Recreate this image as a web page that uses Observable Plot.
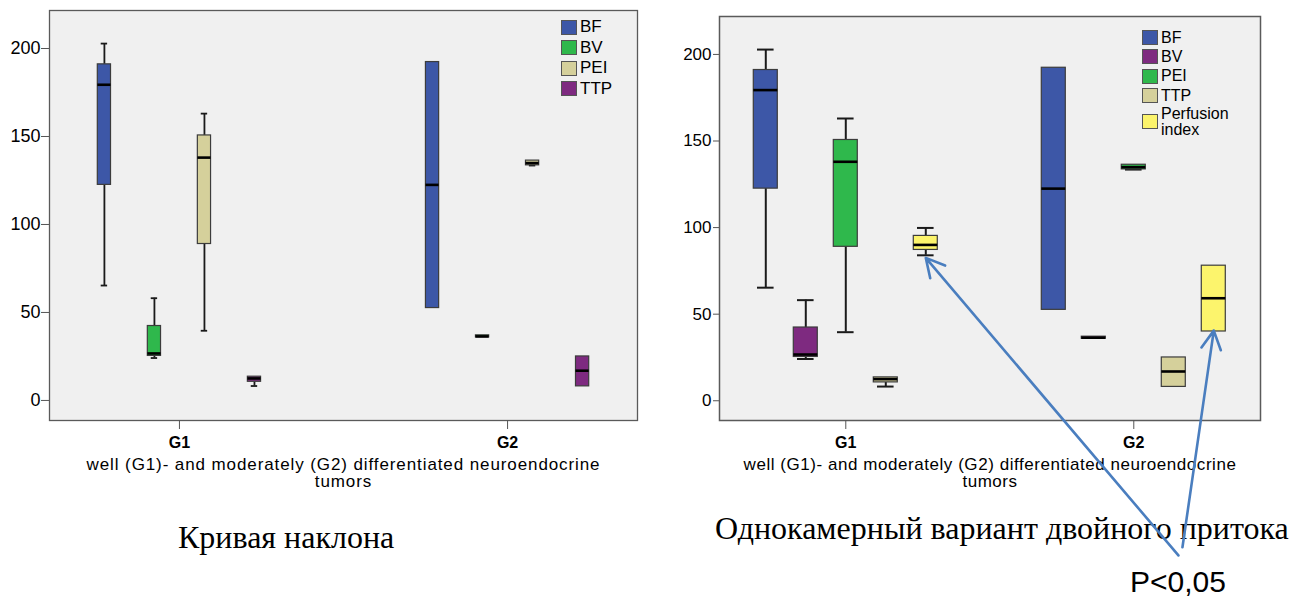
<!DOCTYPE html>
<html><head><meta charset="utf-8">
<script src="https://cdn.jsdelivr.net/npm/d3@7"></script>
<script src="https://cdn.jsdelivr.net/npm/@observablehq/plot@0.6"></script>
<style>
body{margin:0;background:#fff;}
#wrap{position:relative;width:1310px;height:600px;overflow:hidden;font-family:"Liberation Sans",Arial,sans-serif;}
.chart{position:absolute;top:0;}
.legend{position:absolute;font-family:"Liberation Sans",Arial,sans-serif;font-size:17px;color:#000;}
.legend.small{font-size:16px;}
.legend .row{display:flex;align-items:center;}
.legend .sw{width:16px;height:15px;border:1.5px solid #555;box-sizing:border-box;margin-right:3px;flex:none;}
.legend .lab{line-height:16px;}
.caption{position:absolute;font-family:"Liberation Serif","Times New Roman",serif;font-size:32px;line-height:1;white-space:nowrap;color:#000;}
.pval{position:absolute;font-family:"Liberation Sans",Arial,sans-serif;font-size:30px;line-height:1;white-space:nowrap;color:#000;}
</style></head><body><div id="wrap"></div><script>
// ---- data ----
const groups = ["G1", "G2"];
const leftVars = ["BF", "BV", "PEI", "TTP"];
const leftColors = ["#3d57a7", "#2fb84c", "#d5d09b", "#7e2a80"];
const rightVars = ["BF", "BV", "PEI", "TTP", "Perfusion index"];
const rightColors = ["#3d57a7", "#7e2a80", "#2fb84c", "#d5d09b", "#fcf46c"];
// five-number summaries [min, q1, median, q3, max], one per group [G1, G2]
const BF  = [[65.3, 122.5, 179.4, 191.0, 202.8], [52.5, 52.5, 122.5, 192.3, 192.3]];
const BV  = [[24.1, 25.3, 26.7, 42.3, 58.1], [35.8, 35.8, 36.4, 37.0, 37.0]];
const PEI = [[39.6, 88.9, 138.0, 150.6, 163.0], [133.5, 133.6, 134.9, 136.3, 136.3]];
const TTP = [[8.2, 10.6, 12.5, 13.5, 13.5], [8.0, 8.0, 16.9, 25.0, 25.0]];
const PI  = [[84.0, 87.1, 90.0, 95.2, 99.8], [40.0, 40.0, 59.2, 78.0, 78.0]];
const yTicks = [0, 50, 100, 150, 200];
const xTitle = "well (G1)- and moderately (G2) differentiated neuroendocrine\ntumors";
const leftCaption = "Кривая наклона";
const rightCaption = "Однокамерный вариант двойного притока";
const pText = "P<0,05";
// annotation arrows: from a common label point (below the chart) to the Perfusion index boxes
const arrowTipGroup = [0, 1];
const arrowTipValue = [82.5, 40.5];
const arrowTailX = [1.155, 1.169];
const arrowTailY = [-89.3, -84.6];

function rowsFor(vars, colors, series, step) {
  const rows = [];
  groups.forEach((g, gi) => {
    vars.forEach((v, vi) => {
      const s = series[vi][gi];
      rows.push({group: g, variable: v, color: colors[vi],
        x: gi + (vi - (vars.length - 1) / 2) * step,
        min: s[0], q1: s[1], med: s[2], q3: s[3], max: s[4]});
    });
  });
  return rows;
}

function boxMarks(rows, boxHalf, capHalf, whiskerW) {
  const upper = rows.filter(d => d.max > d.q3);
  const lower = rows.filter(d => d.min < d.q1);
  return [
    Plot.frame({fill: "#f0f0f0"}),
    Plot.ruleX(upper, {x: "x", y1: "q3", y2: "max", stroke: "#1a1a1a", strokeWidth: whiskerW}),
    Plot.ruleX(lower, {x: "x", y1: "min", y2: "q1", stroke: "#1a1a1a", strokeWidth: whiskerW}),
    Plot.ruleY(upper, {y: "max", x1: d => d.x - capHalf, x2: d => d.x + capHalf, stroke: "#1a1a1a", strokeWidth: whiskerW}),
    Plot.ruleY(lower, {y: "min", x1: d => d.x - capHalf, x2: d => d.x + capHalf, stroke: "#1a1a1a", strokeWidth: whiskerW}),
    Plot.rect(rows, {x1: d => d.x - boxHalf, x2: d => d.x + boxHalf, y1: "q1", y2: "q3", fill: "color", stroke: "#3c3c3c", strokeWidth: 1.2}),
    Plot.ruleY(rows, {y: "med", x1: d => d.x - boxHalf, x2: d => d.x + boxHalf, stroke: "#000", strokeWidth: 2.6})
  ];
}

function spaceTitle(svg, spacing) {
  d3.select(svg).selectAll("text")
    .filter(function () { return this.textContent.startsWith("well"); })
    .style("letter-spacing", spacing + "px");
}

const wrap = document.getElementById("wrap");

// ---- left chart ----
const leftRows = rowsFor(leftVars, leftColors, [BF, BV, PEI, TTP], 50 / 328);
const left = Plot.plot({
  width: 650, height: 500,
  marginLeft: 49, marginRight: 13, marginTop: 10, marginBottom: 80,
  style: {background: "transparent", overflow: "visible", fontFamily: "Liberation Sans, Arial, sans-serif"},
  x: {domain: [-0.396, 1.396]},
  y: {domain: [-11.4, 221.6]},
  color: {type: "identity"},
  marks: [
    ...boxMarks(leftRows, 6.6 / 328, 3.2 / 328, 1.8),
    Plot.frame({stroke: "#5a5a5a", strokeWidth: 1.3}),
    Plot.axisY({ticks: yTicks, tickSize: 8, tickPadding: 1, fontSize: 18, label: null, stroke: "#555"}),
    Plot.axisX({ticks: [0, 1], tickFormat: i => groups[i], tickSize: 9, tickPadding: 7, fontSize: 16, fontWeight: "bold", label: null, stroke: "#555"}),
    Plot.text([xTitle], {frameAnchor: "bottom", dy: 37, lineAnchor: "top", fontSize: 17, lineHeight: 1.0})
  ]
});
spaceTitle(left, 0.9);
left.classList.add("chart");
left.style.left = "0px";
wrap.appendChild(left);

// ---- right chart ----
const rStep = 40 / 288;
const rightRows = rowsFor(rightVars, rightColors, [BF, BV, PEI, TTP, PI], rStep);
const piIndex = rightVars.indexOf("Perfusion index");
const arrows = arrowTipGroup.map((g, i) => ({
  x1: arrowTailX[i], y1: arrowTailY[i],
  x2: g + (piIndex - (rightVars.length - 1) / 2) * rStep, y2: arrowTipValue[i]
}));

// captions (drawn under the right chart so the arrows cross them)
function addText(cls, text, x, y) {
  const d = document.createElement("div");
  d.className = cls; d.textContent = text;
  d.style.left = x + "px"; d.style.top = y + "px";
  wrap.appendChild(d);
  return d;
}
addText("caption", leftCaption, 178, 521);
addText("caption", rightCaption, 715, 512);
addText("pval", pText, 1130, 567);

const right = Plot.plot({
  width: 650, height: 600,
  marginLeft: 59, marginRight: 50, marginTop: 16, marginBottom: 180,
  style: {background: "transparent", overflow: "visible", fontFamily: "Liberation Sans, Arial, sans-serif"},
  x: {domain: [-0.4385, 1.44]},
  y: {domain: [-11.4, 221.9]},
  color: {type: "identity"},
  marks: [
    ...boxMarks(rightRows, 12 / 288, 8.3 / 288, 2),
    Plot.frame({stroke: "#5a5a5a", strokeWidth: 1.5}),
    Plot.axisY({ticks: yTicks, tickSize: 6, tickPadding: 2, fontSize: 17, label: null, stroke: "#555"}),
    Plot.axisX({ticks: [0, 1], tickFormat: i => groups[i], tickSize: 9, tickPadding: 7, fontSize: 16, fontWeight: "bold", label: null, stroke: "#555"}),
    Plot.text([xTitle], {frameAnchor: "bottom", dy: 37, lineAnchor: "top", fontSize: 17, lineHeight: 1.0}),
    Plot.arrow(arrows, {x1: "x1", y1: "y1", x2: "x2", y2: "y2", stroke: "#4a7ebf", strokeWidth: 2.6, headLength: 12, headAngle: 56})
  ]
});
spaceTitle(right, 0.55);
right.classList.add("chart");
right.style.left = "660px";
wrap.appendChild(right);

// ---- legends ----
function addLegend(vars, colors, x, y, rowH, cls) {
  const lg = document.createElement("div");
  lg.className = "legend" + (cls ? " " + cls : "");
  lg.style.left = x + "px"; lg.style.top = y + "px";
  vars.forEach((v, i) => {
    const r = document.createElement("div");
    r.className = "row";
    const words = v.split(" ");
    r.style.height = (words.length > 1 ? rowH * 1.7 : rowH) + "px";
    const sw = document.createElement("div");
    sw.className = "sw"; sw.style.background = colors[i];
    const lab = document.createElement("div");
    lab.className = "lab"; lab.innerHTML = words.join("<br>");
    r.appendChild(sw); r.appendChild(lab);
    lg.appendChild(r);
  });
  wrap.appendChild(lg);
}
addLegend(leftVars, leftColors, 561, 17, 20.5);
addLegend(rightVars, rightColors, 1142, 28, 19.3, "small");
</script></body></html>
